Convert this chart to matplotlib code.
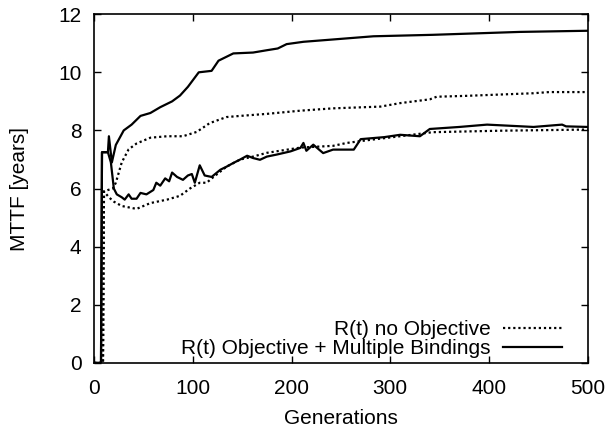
import matplotlib.pyplot as plt

plt.rcParams['font.family'] = ['Liberation Sans', 'DejaVu Sans']

# upper solid curve (Objective + Multiple Bindings)
bind_x = [0, 7, 8, 14, 15, 18, 22, 30, 38, 47, 57, 67, 79, 87, 95, 106, 119, 126,
          141, 161, 175, 186, 195, 212, 242, 283, 343, 387, 431, 500]
bind_y = [0, 0, 7.25, 7.25, 7.8, 6.9, 7.5, 8.0, 8.2, 8.5, 8.6, 8.8, 9.0, 9.2, 9.5,
          10.0, 10.05, 10.4, 10.65, 10.68, 10.76, 10.82, 10.97, 11.05, 11.13, 11.24,
          11.29, 11.34, 11.39, 11.43]

# upper dotted curve (no Objective)
noobj_x = [0, 9, 10, 14, 19, 22, 28, 35, 43, 57, 74, 90, 104, 117, 121, 134, 148,
           175, 209, 242, 290, 310, 340, 347, 377, 445, 461, 500]
noobj_y = [0, 0, 5.9, 5.95, 6.0, 6.2, 6.9, 7.35, 7.55, 7.75, 7.8, 7.8, 7.95, 8.25,
           8.3, 8.46, 8.5, 8.57, 8.68, 8.76, 8.82, 8.94, 9.07, 9.16, 9.19, 9.28,
           9.32, 9.32]

# lower solid curve
low_solid_x = [0, 7, 8, 14, 17, 20, 23, 28, 31, 35, 38, 43, 47, 53, 60, 63, 67, 72,
               76, 79, 84, 90, 95, 99, 102, 107, 112, 119, 128, 134, 141, 148, 155,
               161, 168, 175, 185, 199, 209, 212, 215, 222, 232, 242, 263, 270, 294,
               310, 330, 340, 370, 398, 445, 474, 478, 500]
low_solid_y = [0, 0, 7.25, 7.25, 6.9, 6.0, 5.8, 5.7, 5.62, 5.8, 5.65, 5.65, 5.85,
               5.8, 5.95, 6.2, 6.1, 6.35, 6.25, 6.55, 6.4, 6.3, 6.45, 6.5, 6.2, 6.8,
               6.45, 6.4, 6.65, 6.75, 6.88, 7.0, 7.13, 7.05, 6.99, 7.1, 7.17, 7.28,
               7.4, 7.57, 7.3, 7.51, 7.22, 7.34, 7.34, 7.7, 7.77, 7.85, 7.8, 8.05,
               8.12, 8.2, 8.12, 8.2, 8.14, 8.12]

# lower dotted curve
low_dot_x = [0, 9, 10, 15, 20, 28, 43, 57, 74, 87, 97, 107, 114, 121, 134, 148, 161,
             175, 209, 242, 256, 276, 310, 343, 411, 500]
low_dot_y = [0, 0, 5.9, 5.7, 5.55, 5.4, 5.3, 5.5, 5.62, 5.75, 6.0, 6.2, 6.2, 6.4,
             6.75, 7.0, 7.1, 7.23, 7.41, 7.47, 7.57, 7.66, 7.8, 7.94, 7.99, 8.03]

fig = plt.figure(figsize=(6.11, 4.30), dpi=100)
ax = fig.add_axes([0.154, 0.156, 0.808, 0.811])

dots = (0, (1, 1.3))
ax.plot(low_dot_x, low_dot_y, color='black', lw=1.6, linestyle=dots)
ax.plot(low_solid_x, low_solid_y, color='black', lw=1.6)
ax.plot(noobj_x, noobj_y, color='black', lw=1.6, linestyle=dots, label='R(t) no Objective')
ax.plot(bind_x, bind_y, color='black', lw=1.6, label='R(t) Objective + Multiple Bindings')

ax.set_xlim(0, 500)
ax.set_ylim(0, 12)
ax.set_xticks([0, 100, 200, 300, 400, 500])
ax.set_yticks([0, 2, 4, 6, 8, 10, 12])
ax.tick_params(direction='in', top=True, right=True, length=5, width=1,
               labelsize=15)
ax.tick_params(axis='x', pad=11.5)
ax.tick_params(axis='y', pad=9)
for s in ax.spines.values():
    s.set_linewidth(1.2)

ax.set_xlabel('Generations', fontsize=15, labelpad=8)
ax.set_ylabel('MTTF [years]', fontsize=15, labelpad=21)

ax.legend(loc='lower right', bbox_to_anchor=(0.947, 0.014), frameon=False,
          markerfirst=False, fontsize=15, handlelength=2.8, handletextpad=0.6,
          labelspacing=0.0, borderpad=0, borderaxespad=0)

fig.savefig('out.png', dpi=100)
